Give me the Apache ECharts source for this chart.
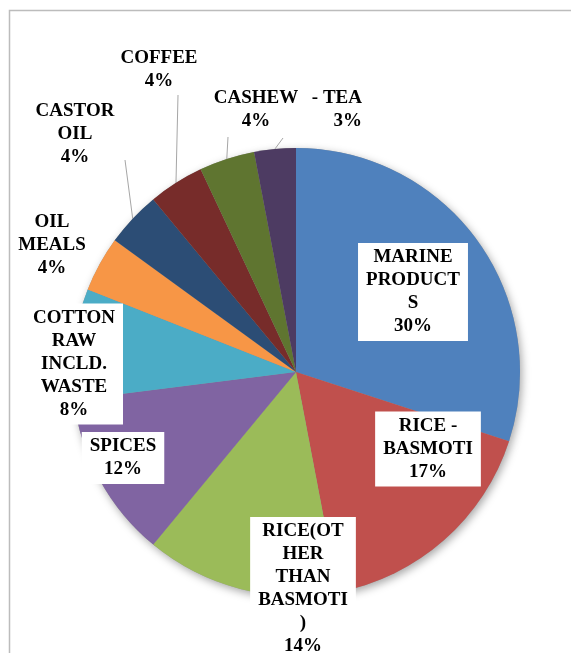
<!DOCTYPE html>
<html>
<head>
<meta charset="utf-8">
<script src="https://cdn.jsdelivr.net/npm/echarts@6/dist/echarts.min.js"></script>
<style>
  html, body { margin: 0; padding: 0; background: #ffffff; }
  #chart { width: 571px; height: 653px; }
</style>
</head>
<body>
<div id="chart"></div>
<script>
// Export shares by commodity (%)
const categories = ['MARINE PRODUCTS', 'RICE - BASMOTI', 'RICE(OTHER THAN BASMOTI)', 'SPICES',
  'COTTON RAW INCLD. WASTE', 'OIL MEALS', 'CASTOR OIL', 'COFFEE', 'CASHEW', 'TEA'];
const shares = [30, 17, 14, 12, 8, 4, 4, 4, 4, 3];
// Wrapped label text as shown on the slices
const labelText = ['MARINE\nPRODUCT\nS', 'RICE -\nBASMOTI', 'RICE(OT\nHER\nTHAN\nBASMOTI\n)', 'SPICES',
  'COTTON\nRAW\nINCLD.\nWASTE', 'OIL\nMEALS', 'CASTOR\nOIL', 'COFFEE', 'CASHEW', '- TEA'];

const palette = ['#4F81BD', '#C0504D', '#9BBB59', '#8064A2', '#4BACC6',
  '#F79646', '#2C4D75', '#772C2A', '#5F7530', '#4D3B62'];

// Pie geometry (px)
const CX = 296, CY = 372, R = 224;
// Label centres relative to the pie centre (px)
const labelSpots = [[117, -80], [132, 77], [7, 217], [-173, 86], [-222, -8],
  [-244, -127], [-221, -238], [-137, -302], [-40, -262], [66, -262]];
const boxedLabel = [true, true, true, true, true, false, false, false, false, false];
// Leader-line tips relative to the label anchor (px)
const leaderTips = [null, null, null, null, null, null, [50, 26], [19, 25], [-28, 27], [-79, 28]];

const textStyle = {
  fontFamily: 'Liberation Serif',
  fontWeight: 'bold',
  fontSize: 19,
  lineHeight: 23,
  color: '#000000'
};

const data = categories.map((name, i) => ({
  name: name,
  value: shares[i],
  itemStyle: { color: palette[i] },
  label: Object.assign({
    show: true,
    position: boxedLabel[i] ? 'inside' : 'outside',
    formatter: labelText[i] + '\n' + shares[i] + '%',
    align: i === 9 ? 'right' : 'center'
  }, boxedLabel[i] ? { backgroundColor: '#ffffff', padding: [3, 8] } : {}),
  labelLine: {
    show: leaderTips[i] != null,
    lineStyle: { color: '#a6a6a6', width: 1 }
  }
}));

const chart = echarts.init(document.getElementById('chart'), null, { renderer: 'canvas' });

chart.setOption({
  backgroundColor: '#ffffff',
  animation: false,
  graphic: [{
    type: 'rect',
    silent: true,
    z: -10,
    shape: { x: 9.5, y: 10.5, width: 640, height: 720 },
    style: { fill: 'none', stroke: '#bcbcbc', lineWidth: 1.5 }
  }],
  series: [
    {
      // soft drop shadow under the whole pie
      type: 'pie',
      silent: true,
      z: 1,
      center: [CX, CY],
      radius: R,
      startAngle: 90,
      label: { show: false },
      labelLine: { show: false },
      itemStyle: {
        color: '#999999',
        shadowBlur: 8,
        shadowColor: 'rgba(0,0,0,0.35)',
        shadowOffsetX: 2,
        shadowOffsetY: 3
      },
      data: shares.map((v) => ({ value: v }))
    },
    {
      type: 'pie',
      z: 2,
      center: [CX, CY],
      radius: R,
      startAngle: 90,
      clockwise: true,
      avoidLabelOverlap: false,
      itemStyle: { borderWidth: 0 },
      label: textStyle,
      labelLayout: function (params) {
        const i = params.dataIndex;
        const s = labelSpots[i];
        const x = CX + s[0];
        const y = CY + s[1];
        const out = { x: x, y: y, align: i === 9 ? 'right' : 'center', verticalAlign: 'middle' };
        if (leaderTips[i] && params.labelLinePoints) {
          const a = params.labelLinePoints[0];
          const tip = [x + leaderTips[i][0], y + leaderTips[i][1]];
          out.labelLinePoints = [a, tip, tip];
        }
        return out;
      },
      data: data
    }
  ]
});
</script>
</body>
</html>
